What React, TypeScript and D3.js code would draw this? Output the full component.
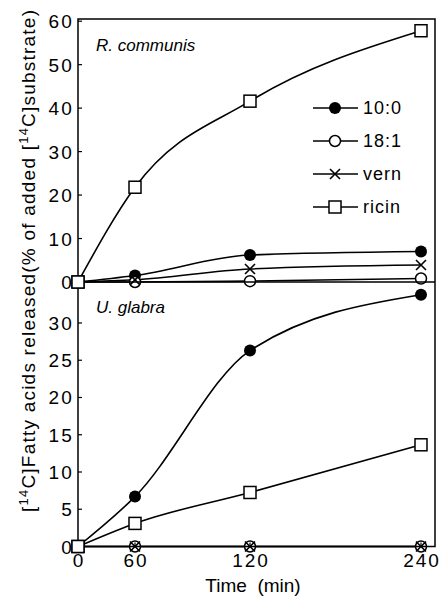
import React, { useEffect, useRef } from 'react'
import * as d3 from 'd3'

// time points (min)
const times = [0, 60, 120, 240]
const seriesNames = ['10:0', '18:1', 'vern', 'ricin']
const seriesMarks = ['filled', 'open', 'cross', 'square']

// R. communis panel
const rc_10_0 = [0, 1.5, 6.2, 7.0]
const rc_18_1 = [0, 0, 0.2, 0.8]
const rc_vern = [0, 0.5, 3.0, 3.9]
const rc_ricin = [0, 21.8, 41.6, 57.8]

// U. glabra panel
const ug_10_0 = [0, 6.7, 26.3, 33.8]
const ug_18_1 = [0, 0, 0, 0]
const ug_vern = [0, 0, 0, 0]
const ug_ricin = [0, 3.1, 7.25, 13.65]

const topTicks = [0, 10, 20, 30, 40, 50, 60]
const bottomTicks = [0, 5, 10, 15, 20, 25, 30]
const xTickLabels = ['0', '60', '120', '240']

const FONT = '"Liberation Sans", Arial, Helvetica, sans-serif'

function drawMarker(g: any, type: string, x: number, y: number) {
  if (type === 'filled') {
    g.append('circle').attr('cx', x).attr('cy', y).attr('r', 6).attr('fill', '#000')
  } else if (type === 'open') {
    g.append('circle').attr('cx', x).attr('cy', y).attr('r', 5.5)
      .attr('fill', '#fff').attr('stroke', '#000').attr('stroke-width', 1.5)
  } else if (type === 'cross') {
    const s = 5
    g.append('path').attr('d', `M${x - s},${y - s}L${x + s},${y + s}M${x - s},${y + s}L${x + s},${y - s}`)
      .attr('stroke', '#000').attr('stroke-width', 1.6).attr('fill', 'none')
  } else {
    g.append('rect').attr('x', x - 6).attr('y', y - 6).attr('width', 12).attr('height', 12)
      .attr('fill', '#fff').attr('stroke', '#000').attr('stroke-width', 1.5)
  }
}

export default function App() {
  const ref = useRef<SVGSVGElement>(null)

  useEffect(() => {
    const svg = d3.select(ref.current)
    svg.selectAll('*').remove()

    const left = 78, right = 435, top = 19, mid = 282, bottom = 546.5

    // the time axis is not linear in the original figure
    const x = d3.scaleLinear().domain(times).range([78, 135, 250, 421])
    const yTop = d3.scaleLinear().domain([0, 60.5]).range([mid, top])
    const yBot = d3.scaleLinear().domain([0, 35.5]).range([bottom, mid])

    const panels = [
      { y: yTop, ticks: topTicks, data: [rc_10_0, rc_18_1, rc_vern, rc_ricin], label: 'R.  communis', ly: 51 },
      { y: yBot, ticks: bottomTicks, data: [ug_10_0, ug_18_1, ug_vern, ug_ricin], label: 'U.  glabra', ly: 313 },
    ]

    panels.forEach((p, pi) => {
      const g = svg.append('g')
      // ticks (inward)
      p.ticks.forEach(t => {
        if (t === 0) return
        g.append('line').attr('x1', left).attr('x2', left + 4)
          .attr('y1', p.y(t)).attr('y2', p.y(t)).attr('stroke', '#000').attr('stroke-width', 1.2)
      })
      g.selectAll('.tl').data(p.ticks).join('text')
        .attr('x', 74).attr('y', d => p.y(d) + 7)
        .attr('text-anchor', 'end').attr('font-family', FONT).attr('font-size', 19)
        .attr('letter-spacing', 2.2)
        .text(d => d)

      g.append('text').attr('x', 96).attr('y', p.ly)
        .attr('font-family', FONT).attr('font-size', 17).attr('font-style', 'italic')
        .text(p.label)

      const line = d3.line<number>()
        .x((d, i) => x(times[i]))
        .y(d => p.y(d))
        .curve(d3.curveMonotoneX)

      p.data.forEach(vals => {
        g.append('path').attr('d', line(vals))
          .attr('fill', 'none').attr('stroke', '#000').attr('stroke-width', 1.6)
      })
      // ricin markers first so circles sit on top at zero
      ;[3, 0, 1, 2].forEach(si => {
        p.data[si].forEach((v, i) => {
          if (i === 0 && si !== 3) return
          drawMarker(g, seriesMarks[si], x(times[i]), p.y(v))
        })
      })
      if (pi === 0) {
        // legend
        seriesNames.forEach((n, i) => {
          const ly = 108 + i * 33
          g.append('line').attr('x1', 313).attr('x2', 358).attr('y1', ly).attr('y2', ly)
            .attr('stroke', '#000').attr('stroke-width', 1.5)
          drawMarker(g, seriesMarks[i], 335, ly)
          g.append('text').attr('x', 363).attr('y', ly + 6)
            .attr('font-family', FONT).attr('font-size', 18).attr('letter-spacing', 1)
            .text(n)
        })
      }
    })

    // frame
    svg.append('path')
      .attr('d', `M${left},${top}H${right}V${bottom}H${left}ZM${left},${mid}H${right}`)
      .attr('fill', 'none').attr('stroke', '#000').attr('stroke-width', 1.5)
    drawMarker(svg, 'square', x(0), yTop(0))
    drawMarker(svg, 'square', x(0), yBot(0))

    // x ticks
    times.forEach((t, i) => {
      if (i > 0) {
        svg.append('line').attr('x1', x(t)).attr('x2', x(t)).attr('y1', bottom).attr('y2', bottom - 4)
          .attr('stroke', '#000').attr('stroke-width', 1.2)
      }
      svg.append('text').attr('x', x(t) + 1).attr('y', 567)
        .attr('text-anchor', 'middle').attr('font-family', FONT).attr('font-size', 19)
        .attr('letter-spacing', 2)
        .text(xTickLabels[i])
    })

    svg.append('text').attr('x', 253).attr('y', 592)
      .attr('text-anchor', 'middle').attr('font-family', FONT).attr('font-size', 19)
      .attr('xml:space', 'preserve')
      .text('Time  (min)')

    // y title
    const yt = svg.append('text')
      .attr('transform', 'translate(35,261) rotate(-90)')
      .attr('text-anchor', 'middle').attr('font-family', FONT).attr('font-size', 19)
      .attr('textLength', 502).attr('lengthAdjust', 'spacing')
    yt.append('tspan').text('[')
    yt.append('tspan').attr('font-size', 13).attr('dy', -7).text('14')
    yt.append('tspan').attr('dy', 7).text('C]Fatty acids released(% of added [')
    yt.append('tspan').attr('font-size', 13).attr('dy', -7).text('14')
    yt.append('tspan').attr('dy', 7).text('C]substrate)')
  }, [])

  return (
    <svg ref={ref} width={444} height={597} style={{ position: 'absolute', left: 0, top: 0, background: '#fff' }} />
  )
}
